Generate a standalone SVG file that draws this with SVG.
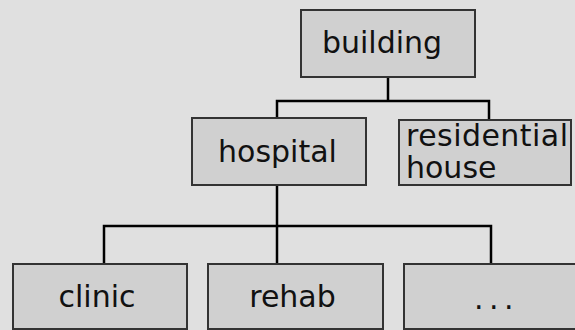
<svg xmlns="http://www.w3.org/2000/svg" width="575" height="330" viewBox="0 0 575 330">
  <style>
    .box { fill: #d0d0d0; stroke: #333333; stroke-width: 2; }
    .lbl { font-family: "DejaVu Sans", sans-serif; font-size: 30px; fill: #111111; }
    .conn { fill: none; stroke: #000000; stroke-width: 2.5; stroke-linejoin: miter; }
  </style>
  <rect width="575" height="330" fill="#e0e0e0"/>

  <g id="connectors">
    <!-- building to its children -->
    <polyline class="conn" points="277,118 277,101 489,101 489,120"/>
    <line class="conn" x1="388" y1="77" x2="388" y2="101"/>
    <!-- hospital to its children -->
    <polyline class="conn" points="104,264 104,226 491,226 491,264"/>
    <line class="conn" x1="277" y1="185" x2="277" y2="264"/>
  </g>

  <g id="building">
    <rect class="box" x="301" y="10" width="174" height="67"/>
    <text class="lbl" x="382" y="53" text-anchor="middle">building</text>
  </g>

  <g id="hospital">
    <rect class="box" x="192" y="118" width="174" height="67"/>
    <text class="lbl" x="277.5" y="162" text-anchor="middle">hospital</text>
  </g>

  <g id="residential-house">
    <rect class="box" x="399" y="120" width="172" height="65"/>
    <text class="lbl" x="406" y="146" textLength="162" lengthAdjust="spacing">residential</text>
    <text class="lbl" x="406" y="178">house</text>
  </g>

  <g id="clinic">
    <rect class="box" x="13" y="264" width="174" height="65"/>
    <text class="lbl" x="97" y="307" text-anchor="middle">clinic</text>
  </g>

  <g id="rehab">
    <rect class="box" x="208" y="264" width="175" height="65"/>
    <text class="lbl" x="292.5" y="307" text-anchor="middle">rehab</text>
  </g>

  <g id="more">
    <rect class="box" x="404" y="264" width="180" height="65"/>
    <text class="lbl" x="474" y="309" letter-spacing="5.5">...</text>
  </g>
</svg>
